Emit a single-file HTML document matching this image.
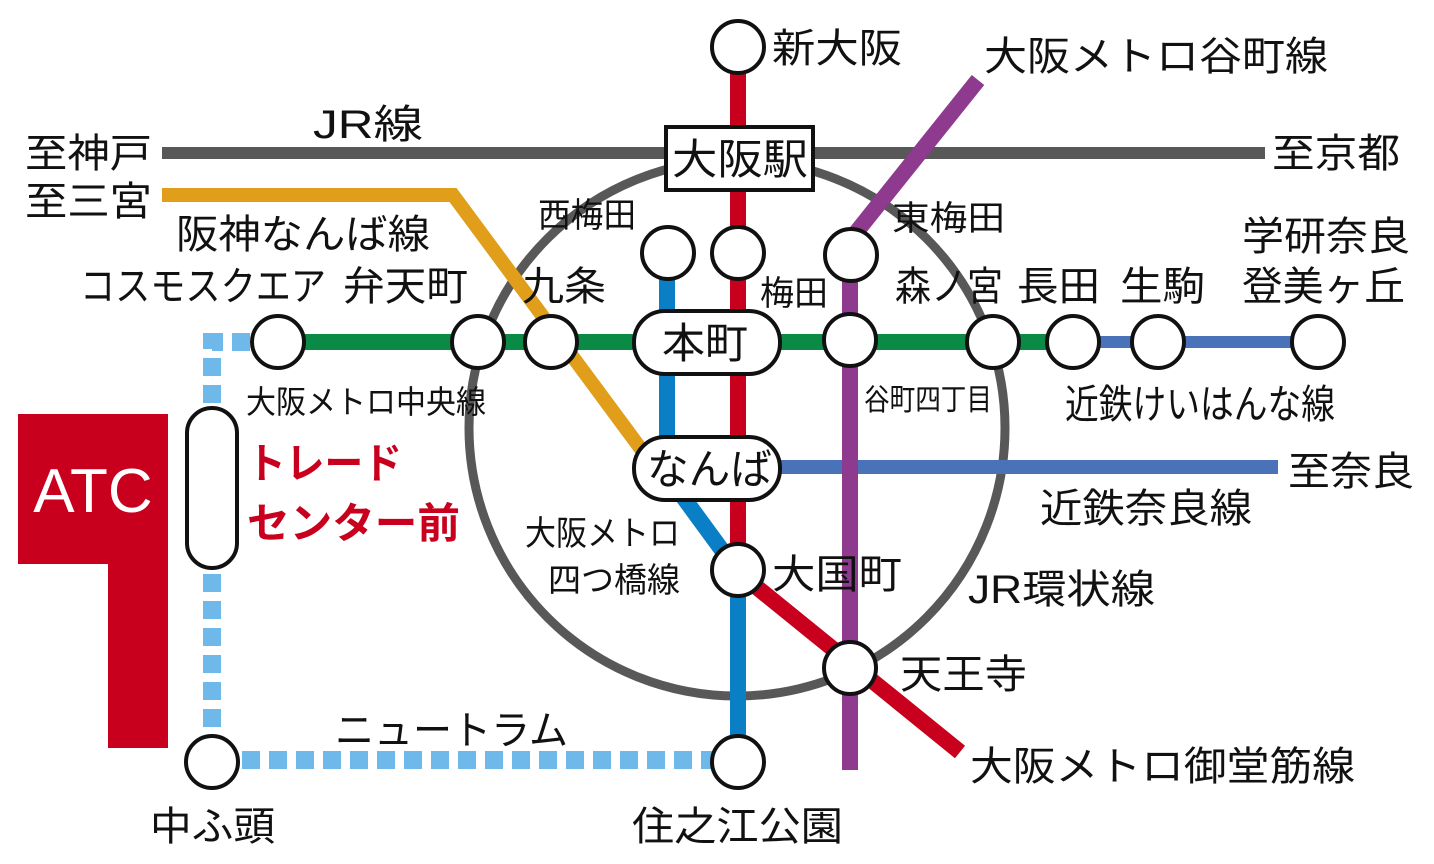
<!DOCTYPE html>
<html><head><meta charset="utf-8"><style>
html,body{margin:0;padding:0;background:#fff;width:1434px;height:864px;overflow:hidden}
text{font-family:"Liberation Sans","Noto Sans CJK JP",sans-serif;fill:#111}
</style></head><body>
<svg width="1434" height="864" viewBox="0 0 1434 864" xmlns="http://www.w3.org/2000/svg">
<path d="M18 414 H168 V748 H108 V564 H18 Z" fill="#c8001e"/>
<text x="93" y="512" font-size="62" text-anchor="middle" style="fill:#fff">ATC</text>
<path d="M250 342 H212 V760 H738" fill="none" stroke="#6fb8ea" stroke-width="18" stroke-dasharray="18 9"/>
<circle cx="737" cy="428" r="268" fill="none" stroke="#585858" stroke-width="9"/>
<line x1="162" y1="153" x2="1265" y2="153" stroke="#585858" stroke-width="12"/>
<polyline points="162,195 453,195 655,468" fill="none" stroke="#e09e1a" stroke-width="14"/>
<line x1="770" y1="467" x2="1278" y2="467" stroke="#4a72b8" stroke-width="14"/>
<line x1="1040" y1="342" x2="1320" y2="342" stroke="#4a72b8" stroke-width="12"/>
<line x1="280" y1="342" x2="1050" y2="342" stroke="#0b8a45" stroke-width="16"/>
<polyline points="667,255 667,475 738,572 738,740" fill="none" stroke="#0a7fc6" stroke-width="16"/>
<polyline points="738,60 738,572 960,752" fill="none" stroke="#c8001e" stroke-width="16"/>
<polyline points="978,80 850,240 850,770" fill="none" stroke="#8e3a8e" stroke-width="16"/>
<g fill="#fff" stroke="#111" stroke-width="4">
<circle cx="738" cy="47" r="26"/>
<circle cx="668" cy="253" r="26"/>
<circle cx="738" cy="253" r="26"/>
<circle cx="851" cy="255" r="26"/>
<circle cx="278" cy="342" r="26"/>
<circle cx="478" cy="342" r="26"/>
<circle cx="551" cy="342" r="26"/>
<circle cx="850" cy="340" r="26"/>
<circle cx="993" cy="342" r="26"/>
<circle cx="1073" cy="342" r="26"/>
<circle cx="1158" cy="342" r="26"/>
<circle cx="1318" cy="342" r="26"/>
<circle cx="738" cy="570" r="26"/>
<circle cx="850" cy="668" r="26"/>
<circle cx="212" cy="762" r="26"/>
<circle cx="738" cy="762" r="26"/>
<rect x="187" y="408" width="50" height="160" rx="25"/>
<rect x="666" y="127" width="147" height="63"/>
<rect x="634" y="311" width="146" height="63" rx="31"/>
<rect x="634" y="437" width="146" height="63" rx="31"/>
</g>
<g font-size="42" lengthAdjust="spacingAndGlyphs">
<text x="672" y="174" textLength="136" lengthAdjust="spacingAndGlyphs">大阪駅</text>
<text x="662" y="358" textLength="86" lengthAdjust="spacingAndGlyphs">本町</text>
<text x="647" y="484" textLength="125" lengthAdjust="spacingAndGlyphs">なんば</text>
</g>
<g font-size="40">
<text x="772" y="62" textLength="130" lengthAdjust="spacingAndGlyphs">新大阪</text>
<text x="984" y="70" textLength="344" lengthAdjust="spacingAndGlyphs">大阪メトロ谷町線</text>
<text x="313" y="138" textLength="110" lengthAdjust="spacingAndGlyphs">JR線</text>
<text x="25" y="167" textLength="127" lengthAdjust="spacingAndGlyphs">至神戸</text>
<text x="25" y="215" textLength="127" lengthAdjust="spacingAndGlyphs">至三宮</text>
<text x="1272" y="167" textLength="128" lengthAdjust="spacingAndGlyphs">至京都</text>
<text x="176" y="248" textLength="254" lengthAdjust="spacingAndGlyphs">阪神なんば線</text>
<text x="80" y="300" textLength="246" lengthAdjust="spacingAndGlyphs">コスモスクエア</text>
<text x="343" y="300" textLength="125" lengthAdjust="spacingAndGlyphs">弁天町</text>
<text x="522" y="300" textLength="84" lengthAdjust="spacingAndGlyphs">九条</text>
<text x="895" y="300" textLength="108" lengthAdjust="spacingAndGlyphs">森ノ宮</text>
<text x="1017" y="300" textLength="83" lengthAdjust="spacingAndGlyphs">長田</text>
<text x="1120" y="300" textLength="85" lengthAdjust="spacingAndGlyphs">生駒</text>
<text x="1242" y="250" textLength="168" lengthAdjust="spacingAndGlyphs">学研奈良</text>
<text x="1242" y="300" textLength="163" lengthAdjust="spacingAndGlyphs">登美ヶ丘</text>
<text x="1288" y="485" textLength="126" lengthAdjust="spacingAndGlyphs">至奈良</text>
<text x="1040" y="522" textLength="212" lengthAdjust="spacingAndGlyphs">近鉄奈良線</text>
<text x="772" y="588" textLength="130" lengthAdjust="spacingAndGlyphs">大国町</text>
<text x="968" y="603" textLength="187" lengthAdjust="spacingAndGlyphs">JR環状線</text>
<text x="900" y="688" textLength="127" lengthAdjust="spacingAndGlyphs">天王寺</text>
<text x="970" y="780" textLength="385" lengthAdjust="spacingAndGlyphs">大阪メトロ御堂筋線</text>
<text x="150" y="840" textLength="125" lengthAdjust="spacingAndGlyphs">中ふ頭</text>
<text x="632" y="840" textLength="211" lengthAdjust="spacingAndGlyphs">住之江公園</text>
<text x="335" y="744" textLength="233" lengthAdjust="spacingAndGlyphs">ニュートラム</text>
<text x="1065" y="418" textLength="270" lengthAdjust="spacingAndGlyphs">近鉄けいはんな線</text>
</g>
<g font-size="34">
<text x="538" y="227" textLength="98" lengthAdjust="spacingAndGlyphs">西梅田</text>
<text x="892" y="230" textLength="113" lengthAdjust="spacingAndGlyphs">東梅田</text>
<text x="760" y="305" textLength="68" lengthAdjust="spacingAndGlyphs">梅田</text>
<text x="525" y="545" textLength="155" lengthAdjust="spacingAndGlyphs">大阪メトロ</text>
<text x="548" y="592" textLength="132" lengthAdjust="spacingAndGlyphs">四つ橋線</text>
</g>
<text x="246" y="413" font-size="32" textLength="240" lengthAdjust="spacingAndGlyphs">大阪メトロ中央線</text>
<text x="864" y="410" font-size="30" textLength="128" lengthAdjust="spacingAndGlyphs">谷町四丁目</text>
<g font-size="42" font-weight="bold">
<text x="247" y="478" style="fill:#c8001e" textLength="155" lengthAdjust="spacingAndGlyphs">トレード</text>
<text x="247" y="538" style="fill:#c8001e" textLength="213" lengthAdjust="spacingAndGlyphs">センター前</text>
</g>
</svg>
</body></html>
